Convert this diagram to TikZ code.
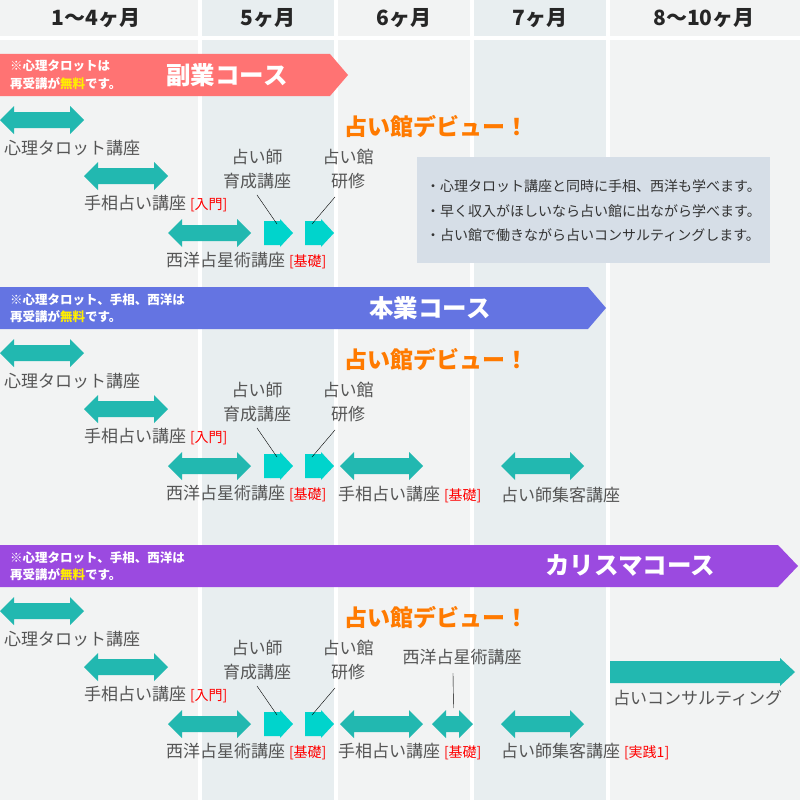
\documentclass[tikz,border=0pt]{standalone}
\usepackage{fontspec}
\setmainfont{Noto Sans CJK JP}
\usetikzlibrary{positioning}
\definecolor{bgA}{HTML}{F2F3F3}
\definecolor{bgB}{HTML}{E8EEF0}
\definecolor{teal}{HTML}{22B8B0}
\definecolor{aqua}{HTML}{00D4CC}
\definecolor{txt}{HTML}{555555}
\definecolor{debut}{HTML}{FF7A00}
\definecolor{pinkband}{HTML}{FF7373}
\definecolor{blueband}{HTML}{6474E2}
\definecolor{purpband}{HTML}{9B4AE0}
\definecolor{infobox}{HTML}{D6DEE7}
\definecolor{freeclr}{HTML}{FFEE00}
\newcommand\sz[1]{\fontsize{#1}{1.4\dimexpr#1pt\relax}\selectfont}
% double arrow: name, x1, x2, y
\newcommand\dbl[4]{%
  \fill[teal] (#2,#4) -- (#2+14,#4-14) -- (#2+14,#4-8) -- (#3-14,#4-8) -- (#3-14,#4-14)
    -- (#3,#4) -- (#3-14,#4+14) -- (#3-14,#4+8) -- (#2+14,#4+8) -- (#2+14,#4+14) -- cycle;
  \coordinate (#1) at ({(#2+#3)/2},#4);}
% short single arrow: name, x, y
\newcommand\sgl[3]{%
  \fill[aqua] (#2,#3-12) -- (#2+16,#3-12) -- (#2+16,#3-14) -- (#2+29,#3) -- (#2+16,#3+14)
    -- (#2+16,#3+12) -- (#2,#3+12) -- cycle;
  \coordinate (#1) at (#2+10,#3);}
\begin{document}
\begin{tikzpicture}[x=1pt,y=-1pt,
    lbl/.style={anchor=west,inner sep=0pt,text=txt,font=\sz{17}},
    lbl2/.style={align=center,inner sep=0pt,text=txt,font=\sz{17}},
    month/.style={font=\bfseries\sz{21},text=black!85},
    band/.style={text=white,font=\bfseries\sz{24.5}},
    note/.style={anchor=west,align=left,inner sep=0pt,text=white,font=\bfseries\sz{12.5}},
    debutlbl/.style={text=debut,font=\bfseries\sz{23}},
    info/.style={anchor=west,inner sep=0pt,text=black!80,font=\sz{14}}]
  \useasboundingbox (0,0) rectangle (800,800);
  % background columns
  \fill[bgA] (0,0) rectangle (800,800);
  \fill[bgB] (200,0) rectangle (336,800);
  \fill[bgB] (472,0) rectangle (608,800);
  \foreach \x in {200,336,472,608}
    \fill[white] (\x-2,0) rectangle (\x+2,800);
  \fill[white] (0,36) rectangle (800,40);
  % months
  \node[month] (m1) at (96,18) {1〜4ヶ月};
  \node[month] (m5) at (268,18) {5ヶ月};
  \node[month] (m6) at (404,18) {6ヶ月};
  \node[month] (m7) at (540,18) {7ヶ月};
  \node[month] (m8) at (704,18) {8〜10ヶ月};
  % course bands
  \fill[pinkband] (0,54) -- (330,54) -- (348,75) -- (330,96) -- (0,96) -- cycle;
  \fill[blueband] (0,287) -- (588,287) -- (606,308) -- (588,329) -- (0,329) -- cycle;
  \fill[purpband] (0,545) -- (778,545) -- (798,566) -- (778,587) -- (0,587) -- cycle;
  \node[band] (c1) at (227,75) {副業コース};
  \node[band] (c2) at (430,308) {本業コース};
  \node[band] (c3) at (630,566) {カリスマコース};
  \node[note] (n1) at (10,75) {※心理タロットは\\再受講が\textcolor{freeclr}{無料}です。};
  \node[note] (n2) at (10,308) {※心理タロット、手相、西洋は\\再受講が\textcolor{freeclr}{無料}です。};
  \node[note] (n3) at (10,566) {※心理タロット、手相、西洋は\\再受講が\textcolor{freeclr}{無料}です。};
  % rows common to all courses
  \foreach \o/\i in {0/a,233/b,491/c} {
    \dbl{tarot\i}{0}{84}{120+\o}
    \node[lbl] (tarotlbl\i) at (4,148+\o) {心理タロット講座};
    \dbl{palm\i}{84}{168}{176+\o}
    \node[lbl] (palmlbl\i) at (84,204+\o) {手相占い講座 \textcolor{red}{\sz{14}[入門]}};
    \dbl{astro\i}{168}{251}{233+\o}
    \node[lbl] (astrolbl\i) at (166,261+\o) {西洋占星術講座 \textcolor{red}{\sz{14}[基礎]}};
    \sgl{train\i}{264}{233+\o}
    \sgl{shop\i}{305}{233+\o}
    \node[lbl2] (trainlbl\i) at (257,169+\o) {占い師\\育成講座};
    \node[lbl2] (shoplbl\i) at (348,169+\o) {占い館\\研修};
    \draw (trainlbl\i.south) ++(0,6) -- ([xshift=3pt,yshift=9pt]train\i);
    \draw (shoplbl\i.south) ++(-13,8) -- ([xshift=-3pt,yshift=9pt]shop\i);
    \node[debutlbl] (debut\i) at (436,126+\o) {占い館デビュー！};
  }
  % info box
  \fill[infobox] (417,157) rectangle (770,263);
  \node[info] (i1) at (426,186) {・心理タロット講座と同時に手相、西洋も学べます。};
  \node[info] (i2) at (426,211) {・早く収入がほしいなら占い館に出ながら学べます。};
  \node[info] (i3) at (426,235) {・占い館で働きながら占いコンサルティングします。};
  % course 2 extras
  \dbl{palmbb}{340}{423}{466}
  \node[lbl] (palmbblbl) at (338,495) {手相占い講座 \textcolor{red}{\sz{14}[基礎]}};
  \dbl{guestb}{501}{584}{466}
  \node[lbl] (guestblbl) at (501,495) {占い師集客講座};
  % course 3 extras
  \dbl{palmbc}{340}{423}{724}
  \node[lbl] (palmbclbl) at (338,752) {手相占い講座 \textcolor{red}{\sz{14}[基礎]}};
  \dbl{astrobc}{432}{473}{724}
  \node[lbl2] (astrobclbl) at (462,657) {西洋占星術講座};
  \draw (astrobclbl.south) ++(-9,8) -- ([xshift=1pt,yshift=16pt]astrobc);
  \dbl{guestc}{501}{584}{724}
  \node[lbl] (guestclbl) at (501,752) {占い師集客講座 \textcolor{red}{\sz{14}[実践1]}};
  \fill[teal] (610,661) -- (780,661) -- (780,658) -- (795,672) -- (780,686) -- (780,683) -- (610,683) -- cycle;
  \coordinate (consult) at (700,672);
  \node[lbl] (consultlbl) at (613,698) {占いコンサルティング};
\end{tikzpicture}
\end{document}
